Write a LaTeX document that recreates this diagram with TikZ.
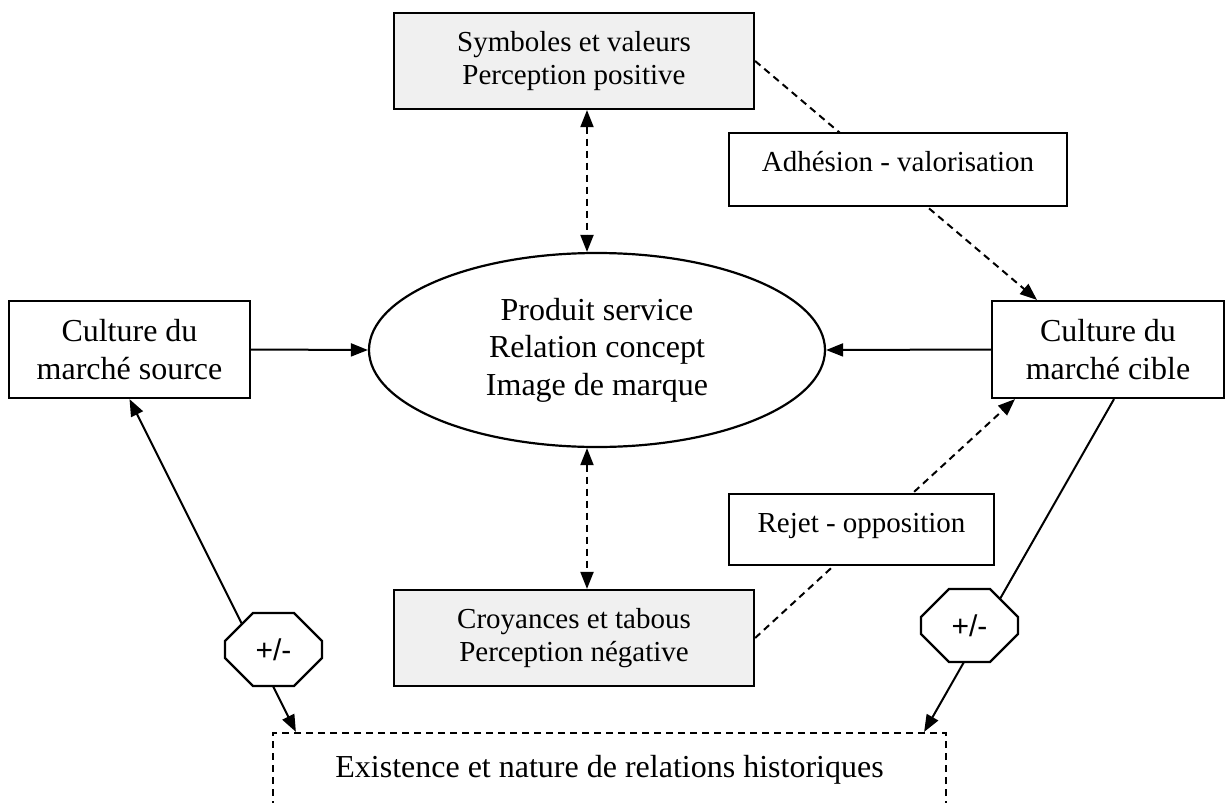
\documentclass[tikz,border=0pt]{standalone}
\usepackage{fontspec}
\setmainfont{Liberation Serif}
\newfontfamily\sansf{Liberation Sans}
\usetikzlibrary{arrows.meta,shapes.geometric,shapes.misc,backgrounds}

\tikzset{
  boite/.style={draw, line width=2.2pt, fill=white, align=center, inner sep=0pt},
  grise/.style={boite, fill=gray!12},
  petit/.style={font=\fontsize{29}{33.5}\selectfont},
  grand/.style={font=\fontsize{32}{37.5}\selectfont},
  octo/.style={draw, line width=2.2pt, fill=white, chamfered rectangle,
    chamfered rectangle xsep=17pt, chamfered rectangle ysep=17pt,
    minimum width=97pt, minimum height=73pt, inner sep=0pt,
    font=\sansf\fontsize{30}{34}\selectfont},
  lien/.style={line width=2pt},
  tiret/.style={lien, dash pattern=on 7pt off 5pt},
}

\begin{document}
\begin{tikzpicture}[x=1pt,y=-1pt,>={Triangle[length=17pt,width=13pt]}]
\useasboundingbox (0,0) rectangle (1226,803);
\clip (0,0) rectangle (1226,803);
% boites
\node[grise,petit,minimum width=360pt,minimum height=96pt] (sym) at (574,61) {Symboles et valeurs\\Perception positive};
\node[boite,petit,minimum width=338pt,minimum height=73pt,text height=20pt,text depth=17pt] (adh) at (898,169.5) {Adhésion - valorisation};
\node[draw,ellipse,line width=2.2pt,grand,align=center,inner sep=0pt,minimum width=456pt,minimum height=194pt] (prod) at (597,350) {Produit service\\Relation concept\\Image de marque};
\node[boite,grand,minimum width=241pt,minimum height=97pt] (src) at (129.5,349.5) {Culture du\\marché source};
\node[boite,grand,minimum width=232pt,minimum height=97pt] (cib) at (1108,349.5) {Culture du\\marché cible};
\node[boite,petit,minimum width=265pt,minimum height=71pt,text height=20pt,text depth=15pt] (rej) at (861.5,529.5) {Rejet - opposition};
\node[grise,petit,minimum width=360pt,minimum height=96pt] (croy) at (574,638) {Croyances et tabous\\Perception négative};
\node[octo] (pmg) at (273.5,649.5) {+/-};
\node[octo] (pmd) at (969.5,625.5) {+/-};
\node[boite,grand,dash pattern=on 7pt off 5pt,minimum width=673pt,minimum height=74pt] (hist) at (609.5,770) {Existence et nature de relations historiques};
% liens
\begin{scope}[on background layer]
\draw[tiret,<->] ([xshift=13pt]sym.south) -- ([xshift=-10pt]prod.north);
\draw[tiret,<->] ([xshift=-10pt]prod.south) -- ([xshift=13pt]croy.north);
\draw[lien,->] (src.east) -- (prod.west);
\draw[lien,->] (cib.west) -- (prod.east);
\draw[tiret,->] (sym.east) -- ([xshift=-71pt]cib.north);
\draw[tiret,->] (croy.east) -- ([xshift=-93pt]cib.south);
\draw[lien,<->] ([xshift=24pt]hist.north west) -- (src.south);
\draw[lien,->] ([xshift=6pt]cib.south) -- ([xshift=-23pt]hist.north east);
\end{scope}
\end{tikzpicture}
\end{document}
